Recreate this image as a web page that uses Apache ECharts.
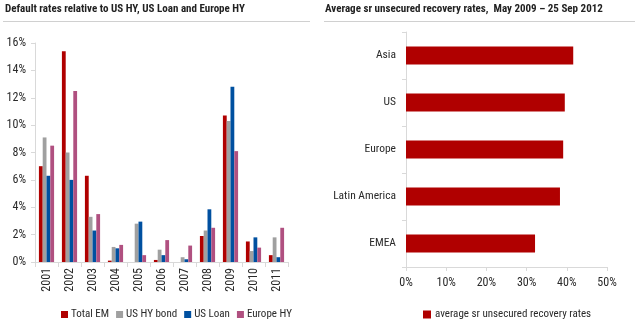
<!DOCTYPE html>
<html><head><meta charset="utf-8">
<script src="https://cdn.jsdelivr.net/npm/echarts@6/dist/echarts.min.js"></script>
<style>html,body{margin:0;padding:0;background:#fff}#c{width:640px;height:329px}</style>
</head><body><div id="c"></div>
<script>
const years = ['2001','2002','2003','2004','2005','2006','2007','2008','2009','2010','2011'];
const totalEM = [7.0, 15.4, 6.3, 0.1, 0, 0.15, 0, 1.9, 10.7, 1.5, 0.5];
const usHYBond = [9.1, 8.0, 3.3, 1.1, 2.8, 0.9, 0.35, 2.3, 10.3, 0.8, 1.8];
const usLoan = [6.3, 6.0, 2.3, 1.0, 2.95, 0.5, 0.2, 3.85, 12.8, 1.8, 0.35];
const europeHY = [8.5, 12.5, 3.5, 1.25, 0.5, 1.6, 1.2, 2.5, 8.1, 1.05, 2.5];
const leftTicks = [0, 2, 4, 6, 8, 10, 12, 14, 16];
const regions = ['Asia', 'US', 'Europe', 'Latin America', 'EMEA'];
const recovery = [41.6, 39.5, 39.1, 38.3, 32.1];
const rightTicks = [0, 10, 20, 30, 40, 50];

const FONT = "'Roboto Condensed', 'DejaVu Sans Condensed', sans-serif";
const txt = '#2a2a2a';
const axisCol = '#d9d9d9';
const chart = echarts.init(document.getElementById('c'), null, {renderer: 'canvas'});
const barSeries = (name, data, color) => ({
  name, type: 'bar', xAxisIndex: 0, yAxisIndex: 0, data,
  barGap: '0%', barCategoryGap: '34%', itemStyle: {color}
});
chart.setOption({
  animation: false,
  textStyle: {fontFamily: FONT},
  title: [
    {text: 'Default rates relative to US HY, US Loan and Europe HY', left: 5, top: 4, padding: 0,
     textStyle: {fontFamily: FONT, fontSize: 11, fontWeight: 'bold', color: '#222'}},
    {text: 'Average sr unsecured recovery rates,  May 2009 \u2013 25 Sep 2012', left: 325, top: 4, padding: 0,
     textStyle: {fontFamily: FONT, fontSize: 11, fontWeight: 'bold', color: '#222'}}
  ],
  graphic: [
    {type: 'line', shape: {x1: 3, y1: 21.5, x2: 310, y2: 21.5}, style: {stroke: '#d0d0d0', lineWidth: 1}},
    {type: 'line', shape: {x1: 324, y1: 21.5, x2: 635, y2: 21.5}, style: {stroke: '#d0d0d0', lineWidth: 1}}
  ],
  legend: [
    {data: ['Total EM', 'US HY bond', 'US Loan', 'Europe HY'], left: 56, top: 304,
     itemWidth: 7, itemHeight: 7, itemGap: 7, icon: 'rect',
     textStyle: {fontFamily: FONT, fontSize: 11, color: txt, padding: [0,0,0,-2]}},
    {data: ['average sr unsecured recovery rates'], left: 418, top: 304,
     itemWidth: 8, itemHeight: 8, icon: 'rect',
     textStyle: {fontFamily: FONT, fontSize: 11, color: txt, padding: [0,0,0,-1]}}
  ],
  grid: [
    {left: 35, top: 43, width: 253, bottom: 67},
    {left: 406, top: 32, right: 33, bottom: 62}
  ],
  xAxis: [
    {type: 'category', gridIndex: 0, data: years,
     axisLine: {lineStyle: {color: axisCol}},
     axisTick: {show: true, length: 5, lineStyle: {color: axisCol}},
     axisLabel: {rotate: 90, fontSize: 12, color: txt, margin: 6, fontFamily: FONT}},
    {type: 'value', gridIndex: 1, min: 0, max: 50, interval: 10,
     axisLine: {show: true, lineStyle: {color: axisCol}},
     axisTick: {show: true, length: 4, lineStyle: {color: axisCol}},
     splitLine: {show: false},
     axisLabel: {fontSize: 12, color: txt, margin: 10, fontFamily: FONT,
       formatter: v => rightTicks.includes(v) ? v + '%' : ''}}
  ],
  yAxis: [
    {type: 'value', gridIndex: 0, min: 0, max: 16, interval: 2,
     axisLine: {show: true, lineStyle: {color: axisCol}},
     axisTick: {show: true, length: 4, lineStyle: {color: axisCol}},
     splitLine: {show: false},
     axisLabel: {fontSize: 12, color: txt, margin: 9, fontFamily: FONT,
       formatter: v => leftTicks.includes(v) ? v + '%' : ''}},
    {type: 'category', gridIndex: 1, data: regions, inverse: true,
     axisLine: {show: true, lineStyle: {color: axisCol}},
     axisTick: {show: true, length: 4, lineStyle: {color: axisCol}},
     axisLabel: {fontSize: 11.5, color: txt, margin: 10, fontFamily: FONT}}
  ],
  series: [
    barSeries('Total EM', totalEM, '#b00000'),
    barSeries('US HY bond', usHYBond, '#a0a0a0'),
    barSeries('US Loan', usLoan, '#0050a0'),
    barSeries('Europe HY', europeHY, '#b05080'),
    {name: 'average sr unsecured recovery rates', type: 'bar', xAxisIndex: 1, yAxisIndex: 1,
     data: recovery, barWidth: 18, itemStyle: {color: '#b00000'}}
  ]
});
</script></body></html>
